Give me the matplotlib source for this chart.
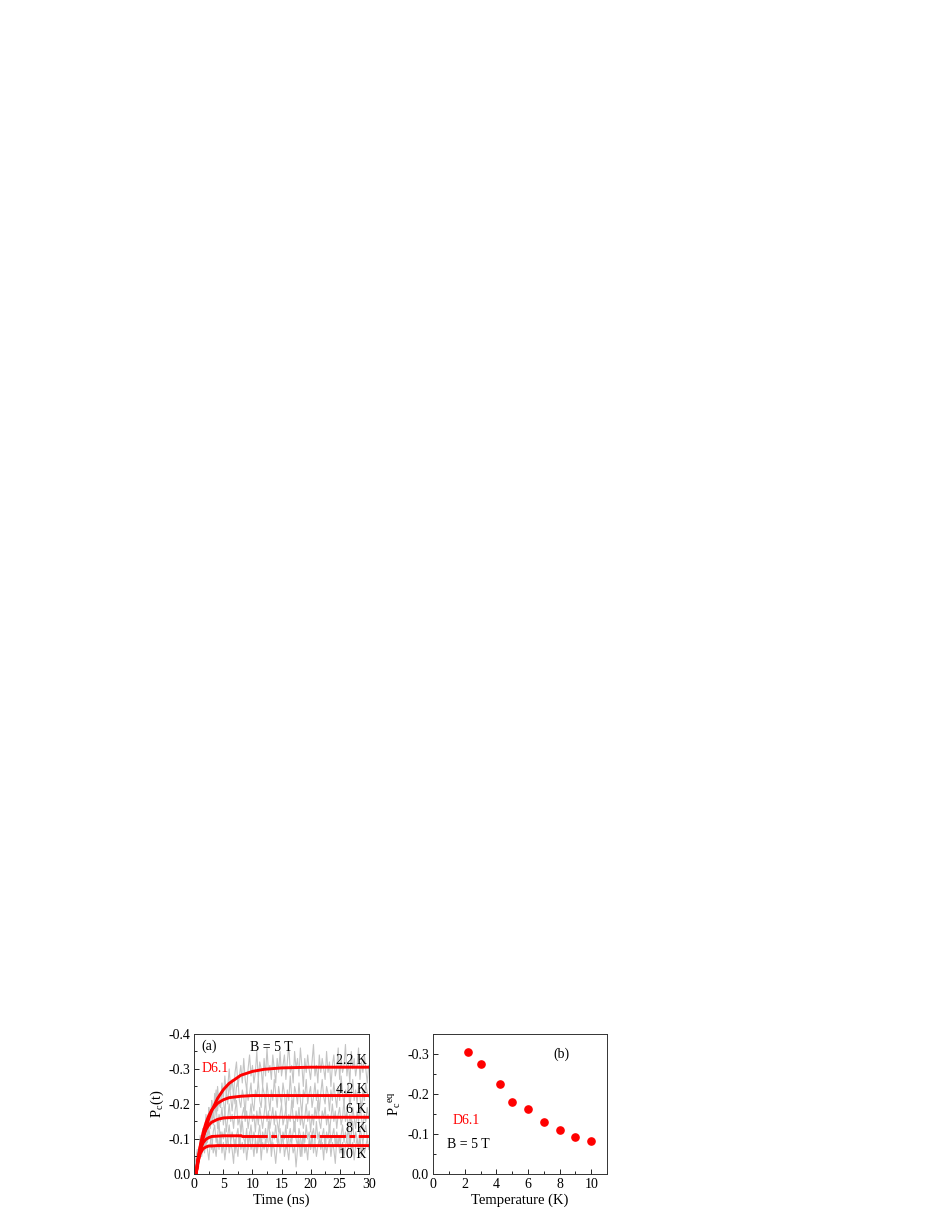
import numpy as np
import matplotlib
matplotlib.use("Agg")
import matplotlib.pyplot as plt
from matplotlib.ticker import MultipleLocator

plt.rcParams['font.family'] = ['Liberation Serif', 'DejaVu Serif']
plt.rcParams['mathtext.fontset'] = 'custom'
plt.rcParams['mathtext.rm'] = 'Liberation Serif'
plt.rcParams['mathtext.it'] = 'Liberation Serif:italic'

# ---------------- data ----------------
temps_labels = ["2.2 K", "4.2 K", "6 K", "8 K", "10 K"]

# gray noisy traces: magnitude of P_c(t) (the values are negative), every 0.25 ns from 0 to 30 ns
t_data = np.linspace(0, 30, 121)
trace_22 = [0.00, 0.01, 0.04, 0.02, 0.09, 0.05, 0.12, 0.08, 0.16, 0.11, 0.19, 0.14, 0.21, 0.16, 0.23, 0.18,
            0.25, 0.20, 0.19, 0.26, 0.22, 0.28, 0.23, 0.25, 0.30, 0.24, 0.27, 0.22, 0.29, 0.32, 0.25, 0.28,
            0.31, 0.26, 0.33, 0.27, 0.24, 0.30, 0.34, 0.28, 0.31, 0.26, 0.29, 0.35, 0.27, 0.32, 0.30, 0.25,
            0.33, 0.28, 0.36, 0.29, 0.31, 0.27, 0.34, 0.30, 0.26, 0.33, 0.29, 0.35, 0.28, 0.31, 0.34, 0.27,
            0.32, 0.37, 0.29, 0.31, 0.26, 0.35, 0.30, 0.33, 0.28, 0.36, 0.31, 0.25, 0.33, 0.29, 0.34, 0.30,
            0.27, 0.32, 0.37, 0.28, 0.31, 0.26, 0.34, 0.29, 0.33, 0.30, 0.27, 0.35, 0.29, 0.32, 0.25, 0.31,
            0.34, 0.28, 0.30, 0.36, 0.27, 0.33, 0.29, 0.31, 0.37, 0.28, 0.32, 0.26, 0.35, 0.30, 0.33, 0.28,
            0.31, 0.36, 0.27, 0.32, 0.29, 0.34, 0.30, 0.26, 0.31]
trace_42 = [0.00, 0.02, 0.05, 0.03, 0.10, 0.06, 0.13, 0.09, 0.17, 0.12, 0.19, 0.15, 0.21, 0.16, 0.20, 0.24,
            0.18, 0.22, 0.19, 0.25, 0.21, 0.17, 0.24, 0.20, 0.26, 0.22, 0.18, 0.23, 0.20, 0.25, 0.27, 0.21,
            0.19, 0.24, 0.22, 0.17, 0.25, 0.21, 0.23, 0.26, 0.20, 0.18, 0.24, 0.22, 0.27, 0.21, 0.19, 0.25,
            0.23, 0.20, 0.26, 0.22, 0.18, 0.24, 0.21, 0.27, 0.23, 0.19, 0.25, 0.22, 0.20, 0.26, 0.23, 0.18,
            0.24, 0.21, 0.28, 0.22, 0.19, 0.25, 0.23, 0.20, 0.26, 0.21, 0.17, 0.24, 0.22, 0.27, 0.20, 0.23,
            0.25, 0.19, 0.22, 0.26, 0.21, 0.24, 0.18, 0.23, 0.27, 0.22, 0.20, 0.25, 0.23, 0.18, 0.24, 0.21,
            0.26, 0.22, 0.19, 0.25, 0.21, 0.28, 0.23, 0.20, 0.24, 0.22, 0.26, 0.19, 0.23, 0.27, 0.21, 0.24,
            0.20, 0.25, 0.22, 0.18, 0.24, 0.21, 0.26, 0.23, 0.22]
trace_6 = [0.00, 0.03, 0.06, 0.04, 0.11, 0.07, 0.13, 0.10, 0.15, 0.12, 0.17, 0.13, 0.18, 0.14, 0.16, 0.20,
           0.13, 0.17, 0.15, 0.19, 0.14, 0.18, 0.12, 0.16, 0.20, 0.15, 0.17, 0.13, 0.18, 0.21, 0.14, 0.16,
           0.12, 0.17, 0.19, 0.15, 0.18, 0.13, 0.16, 0.20, 0.15, 0.17, 0.12, 0.18, 0.14, 0.19, 0.16, 0.13,
           0.17, 0.21, 0.15, 0.18, 0.13, 0.16, 0.19, 0.14, 0.18, 0.15, 0.12, 0.17, 0.20, 0.14, 0.16, 0.19,
           0.13, 0.17, 0.15, 0.21, 0.16, 0.12, 0.18, 0.15, 0.19, 0.14, 0.17, 0.13, 0.16, 0.20, 0.15, 0.18,
           0.12, 0.17, 0.14, 0.19, 0.16, 0.21, 0.15, 0.13, 0.18, 0.16, 0.19, 0.14, 0.17, 0.12, 0.16, 0.20,
           0.15, 0.18, 0.13, 0.17, 0.19, 0.14, 0.16, 0.21, 0.15, 0.18, 0.12, 0.17, 0.14, 0.19, 0.16, 0.13,
           0.18, 0.15, 0.20, 0.16, 0.13, 0.17, 0.15, 0.19, 0.16]
trace_8 = [0.00, 0.04, 0.07, 0.05, 0.09, 0.07, 0.11, 0.08, 0.12, 0.09, 0.13, 0.10, 0.07, 0.12, 0.14, 0.09,
           0.11, 0.15, 0.08, 0.12, 0.10, 0.13, 0.07, 0.11, 0.14, 0.09, 0.12, 0.10, 0.06, 0.11, 0.13, 0.08,
           0.12, 0.15, 0.10, 0.09, 0.13, 0.07, 0.11, 0.14, 0.09, 0.12, 0.10, 0.06, 0.11, 0.14, 0.08, 0.12,
           0.10, 0.13, 0.09, 0.15, 0.11, 0.07, 0.12, 0.10, 0.14, 0.09, 0.11, 0.13, 0.08, 0.12, 0.10, 0.14,
           0.07, 0.11, 0.13, 0.09, 0.12, 0.15, 0.10, 0.08, 0.13, 0.11, 0.05, 0.12, 0.09, 0.14, 0.10, 0.12,
           0.07, 0.11, 0.13, 0.09, 0.15, 0.10, 0.12, 0.08, 0.11, 0.13, 0.07, 0.12, 0.10, 0.14, 0.09, 0.11,
           0.13, 0.08, 0.12, 0.10, 0.06, 0.11, 0.14, 0.09, 0.12, 0.10, 0.13, 0.08, 0.11, 0.15, 0.09, 0.12,
           0.10, 0.07, 0.13, 0.11, 0.09, 0.12, 0.14, 0.10, 0.11]
trace_10 = [0.00, 0.03, 0.06, 0.04, 0.08, 0.05, 0.09, 0.06, 0.10, 0.07, 0.04, 0.09, 0.11, 0.06, 0.08, 0.05,
            0.10, 0.07, 0.12, 0.06, 0.09, 0.04, 0.08, 0.11, 0.06, 0.09, 0.07, 0.03, 0.10, 0.08, 0.05, 0.11,
            0.07, 0.09, 0.06, 0.10, 0.04, 0.08, 0.12, 0.07, 0.09, 0.05, 0.10, 0.06, 0.08, 0.11, 0.04, 0.09,
            0.07, 0.10, 0.06, 0.08, 0.12, 0.05, 0.09, 0.07, 0.03, 0.08, 0.10, 0.06, 0.09, 0.11, 0.05, 0.08,
            0.07, 0.04, 0.10, 0.09, 0.06, 0.08, 0.02, 0.07, 0.10, 0.05, 0.09, 0.11, 0.06, 0.08, 0.04, 0.10,
            0.07, 0.12, 0.06, 0.09, 0.05, 0.08, 0.10, 0.07, 0.09, 0.04, 0.11, 0.06, 0.08, 0.10, 0.05, 0.09,
            0.07, 0.03, 0.10, 0.08, 0.11, 0.06, 0.09, 0.05, 0.08, 0.10, 0.07, 0.12, 0.06, 0.09, 0.04, 0.08,
            0.10, 0.07, 0.11, 0.05, 0.09, 0.06, 0.08, 0.10, 0.07]

# red fit curves read at these times (ns)
t_fit = [0.3, 0.6, 1.0, 1.5, 2.0, 2.5, 3.0, 4.0, 5.0, 6.0, 8.0, 10.0, 12.0, 15.0, 20.0, 30.0]
fit_22 = [0, -0.029, -0.063, -0.101, -0.132, -0.159, -0.181, -0.216, -0.241, -0.259, -0.282, -0.293, -0.299, -0.303, -0.305, -0.305]
fit_42 = [0, -0.038, -0.079, -0.118, -0.146, -0.167, -0.183, -0.202, -0.212, -0.218, -0.222, -0.224, -0.224, -0.224, -0.224, -0.224]
fit_6 = [0, -0.039, -0.076, -0.108, -0.127, -0.140, -0.148, -0.156, -0.160, -0.161, -0.162, -0.162, -0.162, -0.162, -0.162, -0.162]
fit_8 = [0, -0.038, -0.069, -0.089, -0.099, -0.104, -0.107, -0.108, -0.109, -0.109, -0.109, -0.109, -0.109, -0.109, -0.109, -0.109]
fit_10 = [0, -0.034, -0.058, -0.072, -0.077, -0.080, -0.080, -0.081, -0.081, -0.081, -0.081, -0.081, -0.081, -0.081, -0.081, -0.081]

# panel (b)
temperature = [2.2, 3, 4.2, 5, 6, 7, 8, 9, 10]
p_eq = [-0.304, -0.275, -0.225, -0.180, -0.162, -0.131, -0.109, -0.092, -0.082]

# ---------------- figure ----------------
fig = plt.figure(figsize=(9.37, 12.13), dpi=100)
red = '#ff0000'
gray = '#c4c4c4'

def style(ax):
    ax.tick_params(which='both', direction='in', top=False, right=False, labelsize=10, width=0.6, pad=3)
    ax.tick_params(which='major', length=3.5)
    ax.tick_params(which='minor', length=2)
    for s in ax.spines.values():
        s.set_linewidth(0.7)
        s.set_color('#333333')

# panel (a)
axa = fig.add_axes([0.2074, 0.0322, 0.1861, 0.1154])
for tr in [trace_22, trace_42, trace_6, trace_8, trace_10]:
    axa.plot(t_data, -np.asarray(tr), color=gray, lw=0.8, zorder=1)
for fc in [fit_22, fit_42, fit_6, fit_10]:
    axa.plot(t_fit, fc, color=red, lw=2.1, zorder=2)
axa.plot(t_fit[:11], fit_8[:11], color=red, lw=2.1, zorder=2)
axa.plot(t_fit[10:], fit_8[10:], color=red, lw=2.1, zorder=2, dashes=(9, 1.2, 2, 1.2))
axa.set_xlim(0, 30)
axa.set_ylim(0, -0.4)
axa.xaxis.set_major_locator(MultipleLocator(5))
axa.xaxis.set_minor_locator(MultipleLocator(2.5))
axa.set_yticks([0.0, -0.1, -0.2, -0.3, -0.4])
axa.set_yticklabels(['0.0', '-0.1', '-0.2', '-0.3', '-0.4'])
axa.yaxis.set_minor_locator(MultipleLocator(0.05))
style(axa)
axa.set_xlabel('Time (ns)', fontsize=10.5, labelpad=2)
axa.set_ylabel(r'P$_\mathrm{c}$(t)', fontsize=10.5, labelpad=2)
axa.text(1.2, -0.365, '(a)', fontsize=10, va='center')
axa.text(9.6, -0.362, 'B = 5 T', fontsize=10, va='center')
axa.text(1.2, -0.300, 'D6.1', fontsize=10, color=red, va='center')
label_y = [-0.323, -0.240, -0.183, -0.129, -0.056]
for lab, ly in zip(temps_labels, label_y):
    axa.text(29.6, ly, lab, fontsize=10, ha='right', va='center')

# panel (b)
axb = fig.add_axes([0.4624, 0.0322, 0.1854, 0.1154])
axb.plot(temperature, p_eq, 'o', color=red, ms=5.2, mec=red)
axb.set_xlim(0, 11)
axb.set_ylim(0, -0.35)
axb.xaxis.set_major_locator(MultipleLocator(2))
axb.xaxis.set_minor_locator(MultipleLocator(1))
axb.set_yticks([0.0, -0.1, -0.2, -0.3])
axb.set_yticklabels(['0.0', '-0.1', '-0.2', '-0.3'])
axb.yaxis.set_minor_locator(MultipleLocator(0.05))
style(axb)
axb.set_xlabel('Temperature (K)', fontsize=10.5, labelpad=2)
axb.set_ylabel(r'P$_\mathrm{c}$$^\mathrm{eq}$', fontsize=10.5, labelpad=3)
axb.text(7.6, -0.30, '(b)', fontsize=10, va='center')
axb.text(1.25, -0.133, 'D6.1', fontsize=10, color=red, va='center')
axb.text(0.9, -0.073, 'B = 5 T', fontsize=10, va='center')

fig.savefig('out.png', dpi=100)
